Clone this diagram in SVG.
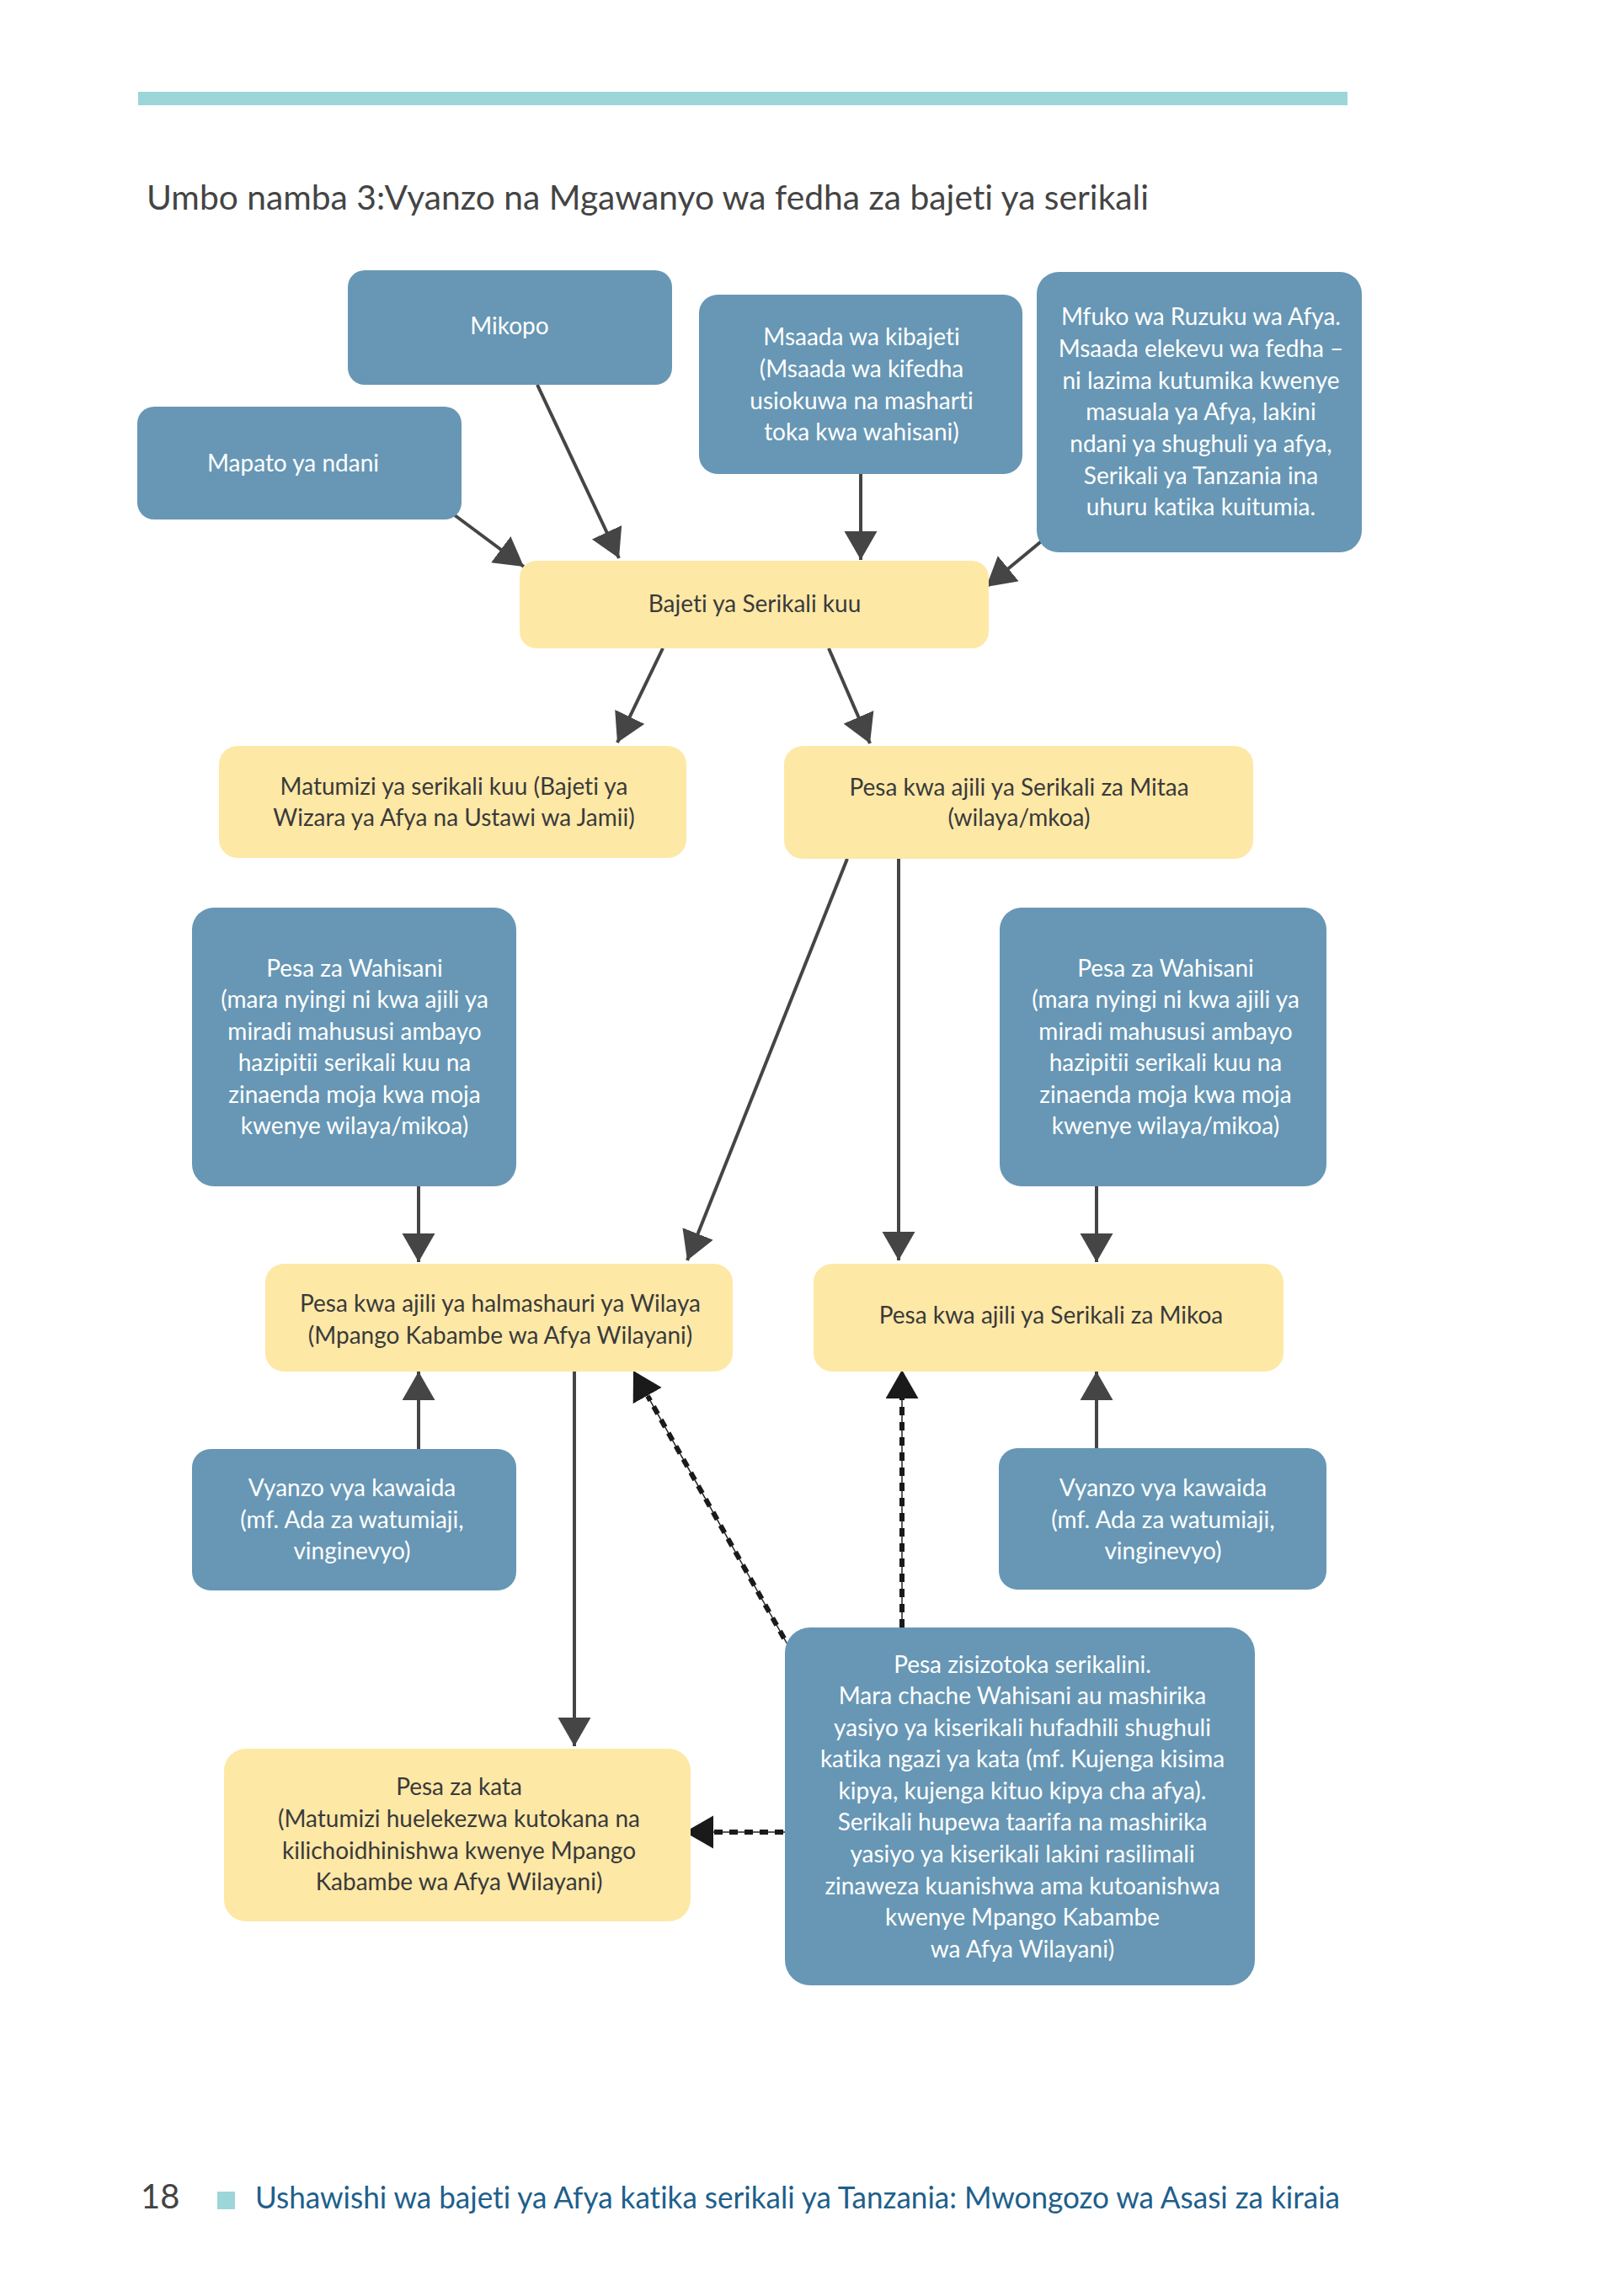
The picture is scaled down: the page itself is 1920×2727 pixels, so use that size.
<svg xmlns="http://www.w3.org/2000/svg" width="1920" height="2727" viewBox="0 0 1920 2727">
<defs>
<style>
text{font-variant-ligatures:none}
.blue{fill:#6797b5}
.yel{fill:#fde8a6}
.t{font-family:Lato,"Open Sans",sans-serif;font-size:28px;text-anchor:middle}
.tw{fill:#ffffff}
.td{fill:#3a3a3a}
.ln{stroke:#454545;stroke-width:4;fill:none}
.dthin{stroke:#222;stroke-width:1.5;fill:none}
.dthick{stroke:#1a1a1a;stroke-width:6;stroke-dasharray:10 8;fill:none}
</style>
<marker id="ah" markerUnits="userSpaceOnUse" markerWidth="36" markerHeight="40" refX="34" refY="19.5" orient="auto">
<path d="M0,0 L34,19.5 L0,39 z" fill="#454545"/>
</marker>
<marker id="ahd" markerUnits="userSpaceOnUse" markerWidth="36" markerHeight="40" refX="34" refY="19.5" orient="auto">
<path d="M0,0 L34,19.5 L0,39 z" fill="#1a1a1a"/>
</marker>
</defs>
<rect width="1920" height="2727" fill="#ffffff"/>
<rect x="164" y="109" width="1436" height="16" fill="#9cd6d8"/>
<text x="174" y="249" font-family="Lato,'Open Sans',sans-serif" font-size="40" fill="#444444" textLength="1190" lengthAdjust="spacingAndGlyphs">Umbo namba 3:Vyanzo na Mgawanyo wa fedha za bajeti ya serikali</text>

<g id="connectors">
<line class="ln" x1="540" y1="612" x2="622" y2="673" marker-end="url(#ah)"/>
<line class="ln" x1="638" y1="457" x2="735" y2="663" marker-end="url(#ah)"/>
<line class="ln" x1="1022" y1="563" x2="1022" y2="665" marker-end="url(#ah)"/>
<line class="ln" x1="1240" y1="640" x2="1171" y2="697" marker-end="url(#ah)"/>
<line class="ln" x1="787" y1="770" x2="733" y2="882" marker-end="url(#ah)"/>
<line class="ln" x1="984" y1="770" x2="1033" y2="883" marker-end="url(#ah)"/>
<line class="ln" x1="1006" y1="1020" x2="816" y2="1497" marker-end="url(#ah)"/>
<line class="ln" x1="1067" y1="1020" x2="1067" y2="1497" marker-end="url(#ah)"/>
<line class="ln" x1="497" y1="1409" x2="497" y2="1499" marker-end="url(#ah)"/>
<line class="ln" x1="1302" y1="1409" x2="1302" y2="1499" marker-end="url(#ah)"/>
<line class="ln" x1="497" y1="1721" x2="497" y2="1629" marker-end="url(#ah)"/>
<line class="ln" x1="1302" y1="1720" x2="1302" y2="1629" marker-end="url(#ah)"/>
<line class="ln" x1="682" y1="1629" x2="682" y2="2074" marker-end="url(#ah)"/>
<line class="dthin" x1="935" y1="1953" x2="752" y2="1628" marker-end="url(#ahd)"/>
<line class="dthick" x1="931" y1="1946" x2="769" y2="1658"/>
<line class="dthin" x1="1071" y1="1933" x2="1071" y2="1627" marker-end="url(#ahd)"/>
<line class="dthick" x1="1071" y1="1933" x2="1071" y2="1660"/>
<line class="dthin" x1="932" y1="2176" x2="813" y2="2176" marker-end="url(#ahd)"/>
<line class="dthick" x1="930" y1="2176" x2="847" y2="2176"/>
</g>

<g id="mikopo">
<rect class="blue" x="413" y="321" width="385" height="136" rx="20"/>
<text class="t tw" x="605" y="397">Mikopo</text>
</g>
<g id="mapato">
<rect class="blue" x="163" y="483" width="385" height="134" rx="20"/>
<text class="t tw" x="348" y="560">Mapato ya ndani</text>
</g>
<g id="msaada">
<rect class="blue" x="830" y="350" width="384" height="213" rx="22"/>
<text class="t tw" x="1023" y="410">Msaada wa kibajeti<tspan x="1023" y="448">(Msaada wa kifedha</tspan><tspan x="1023" y="486">usiokuwa na masharti</tspan><tspan x="1023" y="523">toka kwa wahisani)</tspan></text>
</g>
<g id="mfuko">
<rect class="blue" x="1231" y="323" width="386" height="333" rx="26"/>
<text class="t tw" x="1426" y="386">Mfuko wa Ruzuku wa Afya.<tspan x="1426" y="424">Msaada elekevu wa fedha –</tspan><tspan x="1426" y="462">ni lazima kutumika kwenye</tspan><tspan x="1426" y="499">masuala ya Afya, lakini</tspan><tspan x="1426" y="537">ndani ya shughuli ya afya,</tspan><tspan x="1426" y="575">Serikali ya Tanzania ina</tspan><tspan x="1426" y="612">uhuru katika kuitumia.</tspan></text>
</g>
<g id="bajeti">
<rect class="yel" x="617" y="666" width="557" height="104" rx="20"/>
<text class="t td" x="896" y="727">Bajeti ya Serikali kuu</text>
</g>
<g id="matumizi">
<rect class="yel" x="260" y="886" width="555" height="133" rx="22"/>
<text class="t td" x="539" y="944">Matumizi ya serikali kuu (Bajeti ya<tspan x="539" y="981">Wizara ya Afya na Ustawi wa Jamii)</tspan></text>
</g>
<g id="mitaa">
<rect class="yel" x="931" y="886" width="557" height="134" rx="22"/>
<text class="t td" x="1210" y="945">Pesa kwa ajili ya Serikali za Mitaa<tspan x="1210" y="981">(wilaya/mkoa)</tspan></text>
</g>
<g id="wahisani-kushoto">
<rect class="blue" x="228" y="1078" width="385" height="331" rx="26"/>
<text class="t tw" x="421" y="1160">Pesa za Wahisani<tspan x="421" y="1197">(mara nyingi ni kwa ajili ya</tspan><tspan x="421" y="1235">miradi mahususi ambayo</tspan><tspan x="421" y="1272">hazipitii serikali kuu na</tspan><tspan x="421" y="1310">zinaenda moja kwa moja</tspan><tspan x="421" y="1347">kwenye wilaya/mikoa)</tspan></text>
</g>
<g id="wahisani-kulia">
<rect class="blue" x="1187" y="1078" width="388" height="331" rx="26"/>
<text class="t tw" x="1384" y="1160">Pesa za Wahisani<tspan x="1384" y="1197">(mara nyingi ni kwa ajili ya</tspan><tspan x="1384" y="1235">miradi mahususi ambayo</tspan><tspan x="1384" y="1272">hazipitii serikali kuu na</tspan><tspan x="1384" y="1310">zinaenda moja kwa moja</tspan><tspan x="1384" y="1347">kwenye wilaya/mikoa)</tspan></text>
</g>
<g id="halmashauri">
<rect class="yel" x="315" y="1501" width="555" height="128" rx="22"/>
<text class="t td" x="594" y="1558">Pesa kwa ajili ya halmashauri ya Wilaya<tspan x="594" y="1596">(Mpango Kabambe wa Afya Wilayani)</tspan></text>
</g>
<g id="mikoa">
<rect class="yel" x="966" y="1501" width="558" height="128" rx="22"/>
<text class="t td" x="1248" y="1572">Pesa kwa ajili ya Serikali za Mikoa</text>
</g>
<g id="vyanzo-kushoto">
<rect class="blue" x="228" y="1721" width="385" height="168" rx="22"/>
<text class="t tw" x="418" y="1777">Vyanzo vya kawaida<tspan x="418" y="1815">(mf. Ada za watumiaji,</tspan><tspan x="418" y="1852">vinginevyo)</tspan></text>
</g>
<g id="vyanzo-kulia">
<rect class="blue" x="1186" y="1720" width="389" height="168" rx="22"/>
<text class="t tw" x="1381" y="1777">Vyanzo vya kawaida<tspan x="1381" y="1815">(mf. Ada za watumiaji,</tspan><tspan x="1381" y="1852">vinginevyo)</tspan></text>
</g>
<g id="zisizotoka">
<rect class="blue" x="932" y="1933" width="558" height="425" rx="30"/>
<text class="t tw" x="1214" y="1987">Pesa zisizotoka serikalini.<tspan x="1214" y="2024">Mara chache Wahisani au mashirika</tspan><tspan x="1214" y="2062">yasiyo ya kiserikali hufadhili shughuli</tspan><tspan x="1214" y="2099">katika ngazi ya kata (mf. Kujenga kisima</tspan><tspan x="1214" y="2137">kipya, kujenga kituo kipya cha afya).</tspan><tspan x="1214" y="2174">Serikali hupewa taarifa na mashirika</tspan><tspan x="1214" y="2212">yasiyo ya kiserikali lakini rasilimali</tspan><tspan x="1214" y="2250">zinaweza kuanishwa ama kutoanishwa</tspan><tspan x="1214" y="2287">kwenye Mpango Kabambe</tspan><tspan x="1214" y="2325">wa Afya Wilayani)</tspan></text>
</g>
<g id="kata">
<rect class="yel" x="266" y="2077" width="554" height="205" rx="26"/>
<text class="t td" x="545" y="2132">Pesa za kata<tspan x="545" y="2170">(Matumizi huelekezwa kutokana na</tspan><tspan x="545" y="2208">kilichoidhinishwa kwenye Mpango</tspan><tspan x="545" y="2245">Kabambe wa Afya Wilayani)</tspan></text>
</g>

<text x="167" y="2623" font-family="Lato,'Open Sans',sans-serif" font-size="40" fill="#444444">18</text>
<rect x="258" y="2603" width="21" height="21" fill="#9cd6d8"/>
<text x="303" y="2623" font-family="Lato,'Open Sans',sans-serif" font-size="36" fill="#1e5f8c" textLength="1288" lengthAdjust="spacingAndGlyphs">Ushawishi wa bajeti ya Afya katika serikali ya Tanzania: Mwongozo wa Asasi za kiraia</text>
</svg>
